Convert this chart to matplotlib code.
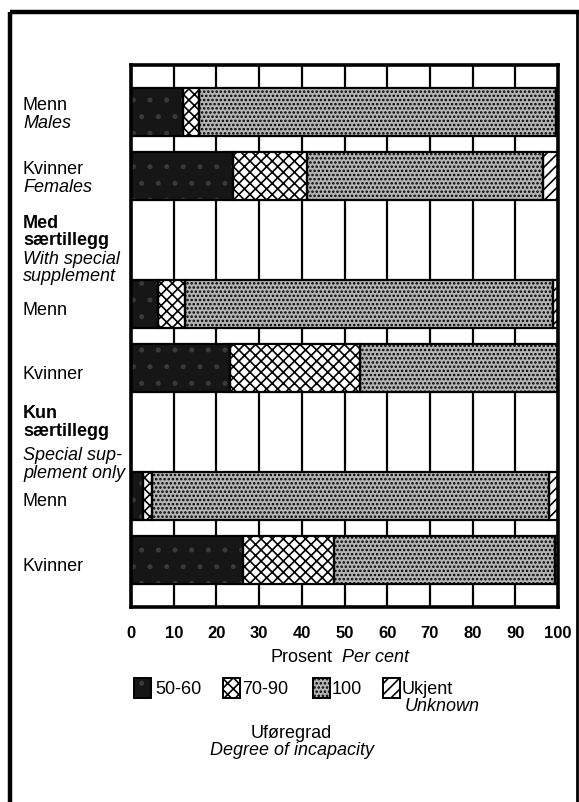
import matplotlib
matplotlib.use('Agg')
import matplotlib.pyplot as plt
from matplotlib.patches import Rectangle

plt.rcParams['font.family'] = ['Liberation Sans', 'DejaVu Sans']
plt.rcParams['hatch.linewidth'] = 1.2

# ---- data (per cent) ----
categories = ['Menn', 'Kvinner', 'Med særtillegg Menn', 'Med særtillegg Kvinner',
              'Kun særtillegg Menn', 'Kun særtillegg Kvinner']
deg_50_60 = [12.2, 23.9, 6.4, 23.2, 2.9, 26.2]
deg_70_90 = [3.7, 17.3, 6.2, 30.4, 2.0, 21.3]
deg_100 = [83.6, 55.3, 86.2, 46.4, 93.0, 51.8]
unknown = [0.5, 3.5, 1.2, 0.0, 2.1, 0.7]
legend_labels = ['50-60', '70-90', '100', 'Ukjent']
xticks = [0, 10, 20, 30, 40, 50, 60, 70, 80, 90, 100]

W, H = 579, 802
fig = plt.figure(figsize=(W / 100, H / 100), dpi=100)


def fx(x):
    return x / W


def fy(y):
    return 1 - y / H


# overlay axes in pixel coordinates for frame, labels, legend
ov = fig.add_axes([0, 0, 1, 1])
ov.set_xlim(0, W)
ov.set_ylim(H, 0)
ov.axis('off')

ax = fig.add_axes([fx(131), fy(607), fx(558) - fx(131), fy(65) - fy(607)])
y_pos = [0, 1, 3, 4, 6, 7]
ax.set_xlim(0, 100)
ax.set_ylim(7.74, -0.73)
for v in xticks[1:-1]:
    ax.axvline(v, color='black', lw=1.6, zorder=1)

styles = [('#161616', '#3a3a3a', '.'),
          ('white', 'black', 'xxx'),
          ('#b4b4b4', 'black', '....'),
          ('white', 'black', '///')]
series = [deg_50_60, deg_70_90, deg_100, unknown]
left = [0.0] * len(categories)
for vals, (fc, hc, hatch) in zip(series, styles):
    ax.barh(y_pos, vals, left=left, height=0.75, color=fc, edgecolor=hc,
            hatch=hatch, linewidth=0, zorder=2)
    ax.barh(y_pos, vals, left=left, height=0.75, fill=False,
            edgecolor='black', linewidth=1.6, zorder=3)
    left = [l + v for l, v in zip(left, vals)]

for s in ax.spines.values():
    s.set_linewidth(2.6)
    s.set_zorder(5)
ax.set_xticks(xticks)
ax.set_xticklabels([str(t) for t in xticks], fontsize=12, fontweight='bold')
ax.tick_params(axis='x', length=0, pad=14)
ax.set_yticks([])

# frame
ov.plot([10, 10], [12, H], color='black', lw=3.2, solid_capstyle='butt')
ov.plot([10, W], [12, 12], color='black', lw=3.2, solid_capstyle='butt')
ov.plot([577, 577], [12, H], color='black', lw=2.0, solid_capstyle='butt')

# row labels
fs = 13
row_text = [
    (110, 'Menn', 'normal', 'normal'), (128, 'Males', 'normal', 'italic'),
    (174, 'Kvinner', 'normal', 'normal'), (192, 'Females', 'normal', 'italic'),
    (228, 'Med', 'bold', 'normal'), (245, 'særtillegg', 'bold', 'normal'),
    (264, 'With special', 'normal', 'italic'), (281, 'supplement', 'normal', 'italic'),
    (315, 'Menn', 'normal', 'normal'),
    (379, 'Kvinner', 'normal', 'normal'),
    (418, 'Kun', 'bold', 'normal'), (436, 'særtillegg', 'bold', 'normal'),
    (460, 'Special sup-', 'normal', 'italic'), (478, 'plement only', 'normal', 'italic'),
    (506, 'Menn', 'normal', 'normal'),
    (571, 'Kvinner', 'normal', 'normal'),
]
for yb, t, w, st in row_text:
    ov.text(23, yb, t, fontsize=fs, fontweight=w, fontstyle=st, va='baseline', ha='left')

# axis title
ov.text(270, 662, 'Prosent', fontsize=fs, va='baseline', ha='left')
ov.text(342, 662, 'Per cent', fontsize=fs, fontstyle='italic', va='baseline', ha='left')

# legend
leg_y0, leg_h = 678, 20
leg_boxes = [134, 223, 313, 383]
leg_text_x = [155, 242, 332, 402]
for (fc, hc, hatch), bx, tx, lab in zip(styles, leg_boxes, leg_text_x, legend_labels):
    ov.add_patch(Rectangle((bx, leg_y0), 17, leg_h, facecolor=fc, edgecolor=hc,
                           hatch=hatch, linewidth=0))
    ov.add_patch(Rectangle((bx, leg_y0), 17, leg_h, fill=False, edgecolor='black',
                           linewidth=1.4))
    ov.text(tx, leg_y0 + 16, lab, fontsize=fs, va='baseline', ha='left')
ov.text(405, leg_y0 + 33, 'Unknown', fontsize=fs, fontstyle='italic', va='baseline', ha='left')

ov.text(291, 738, 'Uføregrad', fontsize=fs, va='baseline', ha='center')
ov.text(292, 755, 'Degree of incapacity', fontsize=fs, fontstyle='italic',
        va='baseline', ha='center')

fig.savefig('out.png', dpi=100)
